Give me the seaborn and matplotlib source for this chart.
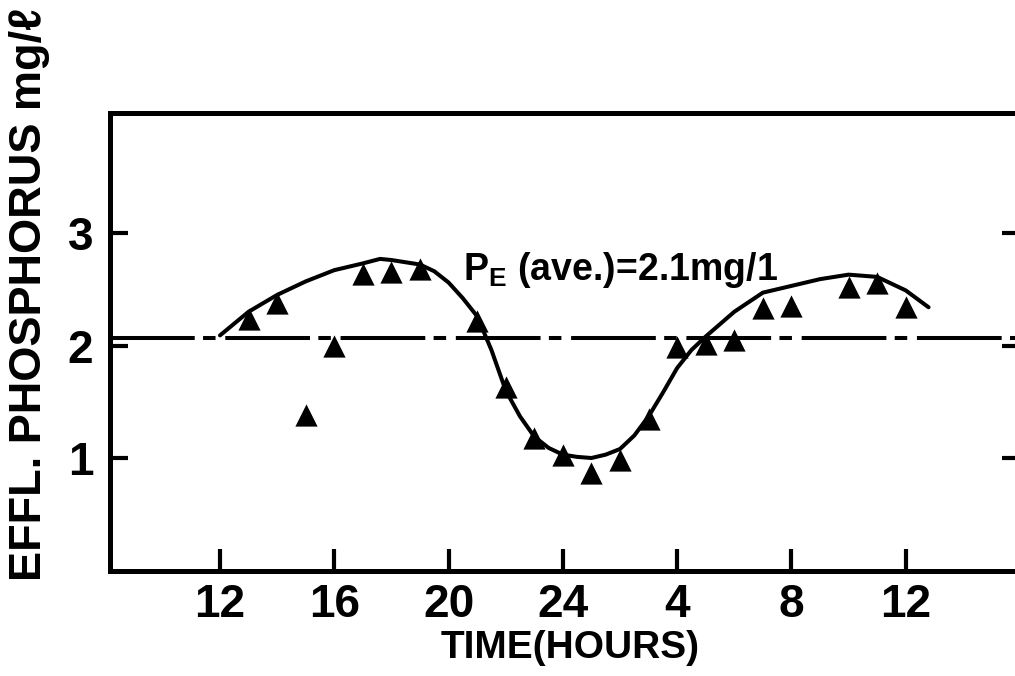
import matplotlib
matplotlib.use("Agg")
import matplotlib.pyplot as plt
import seaborn as sns
import pandas as pd

# ---- data ----
obs_hours = [13, 14, 15, 16, 17, 18, 19, 21, 22, 23, 24, 25, 26, 27, 28, 29, 30, 31, 32, 34, 35, 36]
obs_phos = [2.24, 2.38, 1.38, 2.00, 2.64, 2.65, 2.68, 2.22, 1.63, 1.18, 1.03, 0.87, 0.98, 1.35,
            1.99, 2.01, 2.05, 2.33, 2.35, 2.52, 2.56, 2.34]

curve_hours = [12, 13, 14, 15, 16, 17, 17.6, 18, 19, 19.5, 20, 20.5, 21, 21.5, 22, 22.5, 23, 23.5,
               24, 24.5, 25, 25.5, 26, 26.5, 27, 27.5, 28, 28.5, 29, 30, 31, 32, 33, 34, 35, 36, 36.8]
curve_phos = [2.09, 2.30, 2.45, 2.57, 2.67, 2.73, 2.77, 2.76, 2.72, 2.66, 2.56, 2.42, 2.26, 1.96,
              1.60, 1.37, 1.19, 1.09, 1.03, 1.01, 1.00, 1.03, 1.08, 1.20, 1.37, 1.58, 1.80, 1.96,
              2.08, 2.30, 2.47, 2.53, 2.59, 2.63, 2.61, 2.49, 2.34]

average_phos = 2.07
x_tick_pos = [12, 16, 20, 24, 28, 32, 36]
x_tick_labels = ["12", "16", "20", "24", "4", "8", "12"]
y_ticks = [1, 2, 3]
y_tick_labels = ["1", "2", "3"]

obs_df = pd.DataFrame({"hour": obs_hours, "phos": obs_phos})
curve_df = pd.DataFrame({"hour": curve_hours, "phos": curve_phos})

sns.set_style("white")
FAM = ["Liberation Sans", "DejaVu Sans"]
plt.rcParams["font.family"] = FAM
plt.rcParams["font.weight"] = "bold"
plt.rcParams["text.color"] = "black"
plt.rcParams["xtick.color"] = "black"
plt.rcParams["ytick.color"] = "black"
plt.rcParams["axes.labelcolor"] = "black"
plt.rcParams["lines.scale_dashes"] = False
plt.rcParams["mathtext.fontset"] = "custom"
plt.rcParams["mathtext.rm"] = "Liberation Sans:bold"
plt.rcParams["mathtext.bf"] = "Liberation Sans:bold"

fig = plt.figure(figsize=(10.15, 6.76), dpi=100)
ax = fig.add_axes([110 / 1015, 105.5 / 676, 910 / 1015, 457.5 / 676])

# average dash-dot line
ax.axhline(average_phos, color="black", lw=2.9, linestyle=(0, (61, 6, 9, 7)), zorder=1)

sns.lineplot(data=curve_df, x="hour", y="phos", ax=ax, color="black", lw=2.9,
             sort=False, estimator=None, zorder=2)
sns.scatterplot(data=obs_df, x="hour", y="phos", ax=ax, marker="^", s=256,
                color="black", edgecolor="black", linewidth=0, zorder=3)

ax.set_xlim(8.15, 40)
ax.set_ylim(0, 4.067)

ax.set_xticks(x_tick_pos)
ax.set_xticklabels(x_tick_labels)
ax.set_yticks(y_ticks)
ax.set_yticklabels(y_tick_labels)

ax.tick_params(axis="x", direction="in", length=16, width=3, pad=9, labelsize=33,
               bottom=True, top=False, labelcolor="black")
ax.tick_params(axis="y", direction="in", length=13, width=3, pad=12, labelsize=33,
               left=True, right=True, labelright=False, labelcolor="black")
for lab in ax.get_xticklabels() + ax.get_yticklabels():
    lab.set_fontweight("bold")

for side in ["left", "bottom", "top", "right"]:
    ax.spines[side].set_linewidth(3.6)
    ax.spines[side].set_color("black")

ax.set_xlabel("")
ax.set_ylabel("")

fig.text(570 / 1015, 1 - 648 / 676, "TIME(HOURS)", ha="center", va="center",
         fontsize=28, fontweight="bold", color="black")
fig.text(30 / 1015, 1 - 294 / 676, "EFFL. PHOSPHORUS mg/\u2113", ha="center", va="center",
         rotation=90, fontsize=32.5, fontweight="bold", color="black")

ax.text(20.5, 2.58, r"$\mathrm{P}_{\mathrm{E}}$ (ave.)=2.1mg/1", ha="left", va="baseline",
        fontsize=27, fontweight="bold", color="black")

fig.savefig("out.png", dpi=100)
